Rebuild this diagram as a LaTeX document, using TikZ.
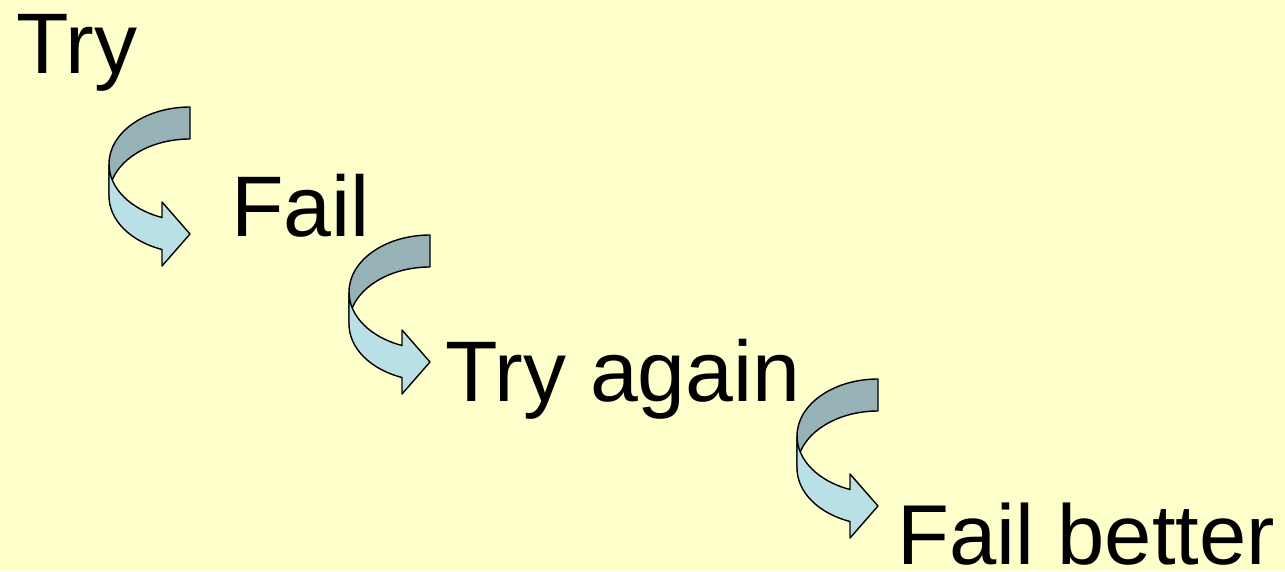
\documentclass[tikz,border=0pt]{standalone}
\usepackage{fontspec}
\setmainfont{Liberation Sans}
\definecolor{bgyellow}{HTML}{FFFFCC}
\definecolor{darkband}{HTML}{96B2B7}
\definecolor{lightband}{HTML}{B9E0E5}
\tikzset{
  bigtext/.style={font=\fontsize{86}{100}\selectfont, inner sep=0pt, anchor=base west, text=black},
  bandline/.style={draw=black, line width=1.4pt, line join=round},
  curvarrow/.pic={
    \filldraw[bandline, fill=darkband]
      (0,0) arc[start angle=90, end angle=180, x radius=81, y radius=57]
      -- (-81,-89) arc[start angle=180, end angle=90, x radius=81, y radius=57]
      -- cycle;
    \filldraw[bandline, fill=lightband]
      (-81,-57) arc[start angle=180, end angle=249.78, x radius=81, y radius=57]
      -- (-28,-95) -- (0,-127) -- (-28,-159) -- (-28,-142.5)
      arc[start angle=249.78, end angle=180, x radius=81, y radius=57]
      -- cycle;
  }
}
\begin{document}
\begin{tikzpicture}[x=1pt,y=1pt]
  \fill[bgyellow] (0,0) rectangle (1285,571);
  \useasboundingbox (0,0) rectangle (1285,571);
  \node[bigtext] (t1) at (16,497) {Try};
  \node[bigtext] (t2) at (231,334) {Fail};
  \node[bigtext] (t3) at (445,170) {Try again};
  \node[bigtext, font=\fontsize{85}{100}\selectfont] (t4) at (897,7) {Fail better};
  \pic at (190,464) {curvarrow};
  \pic at (430,336) {curvarrow};
  \pic at (878,192) {curvarrow};
\end{tikzpicture}
\end{document}
